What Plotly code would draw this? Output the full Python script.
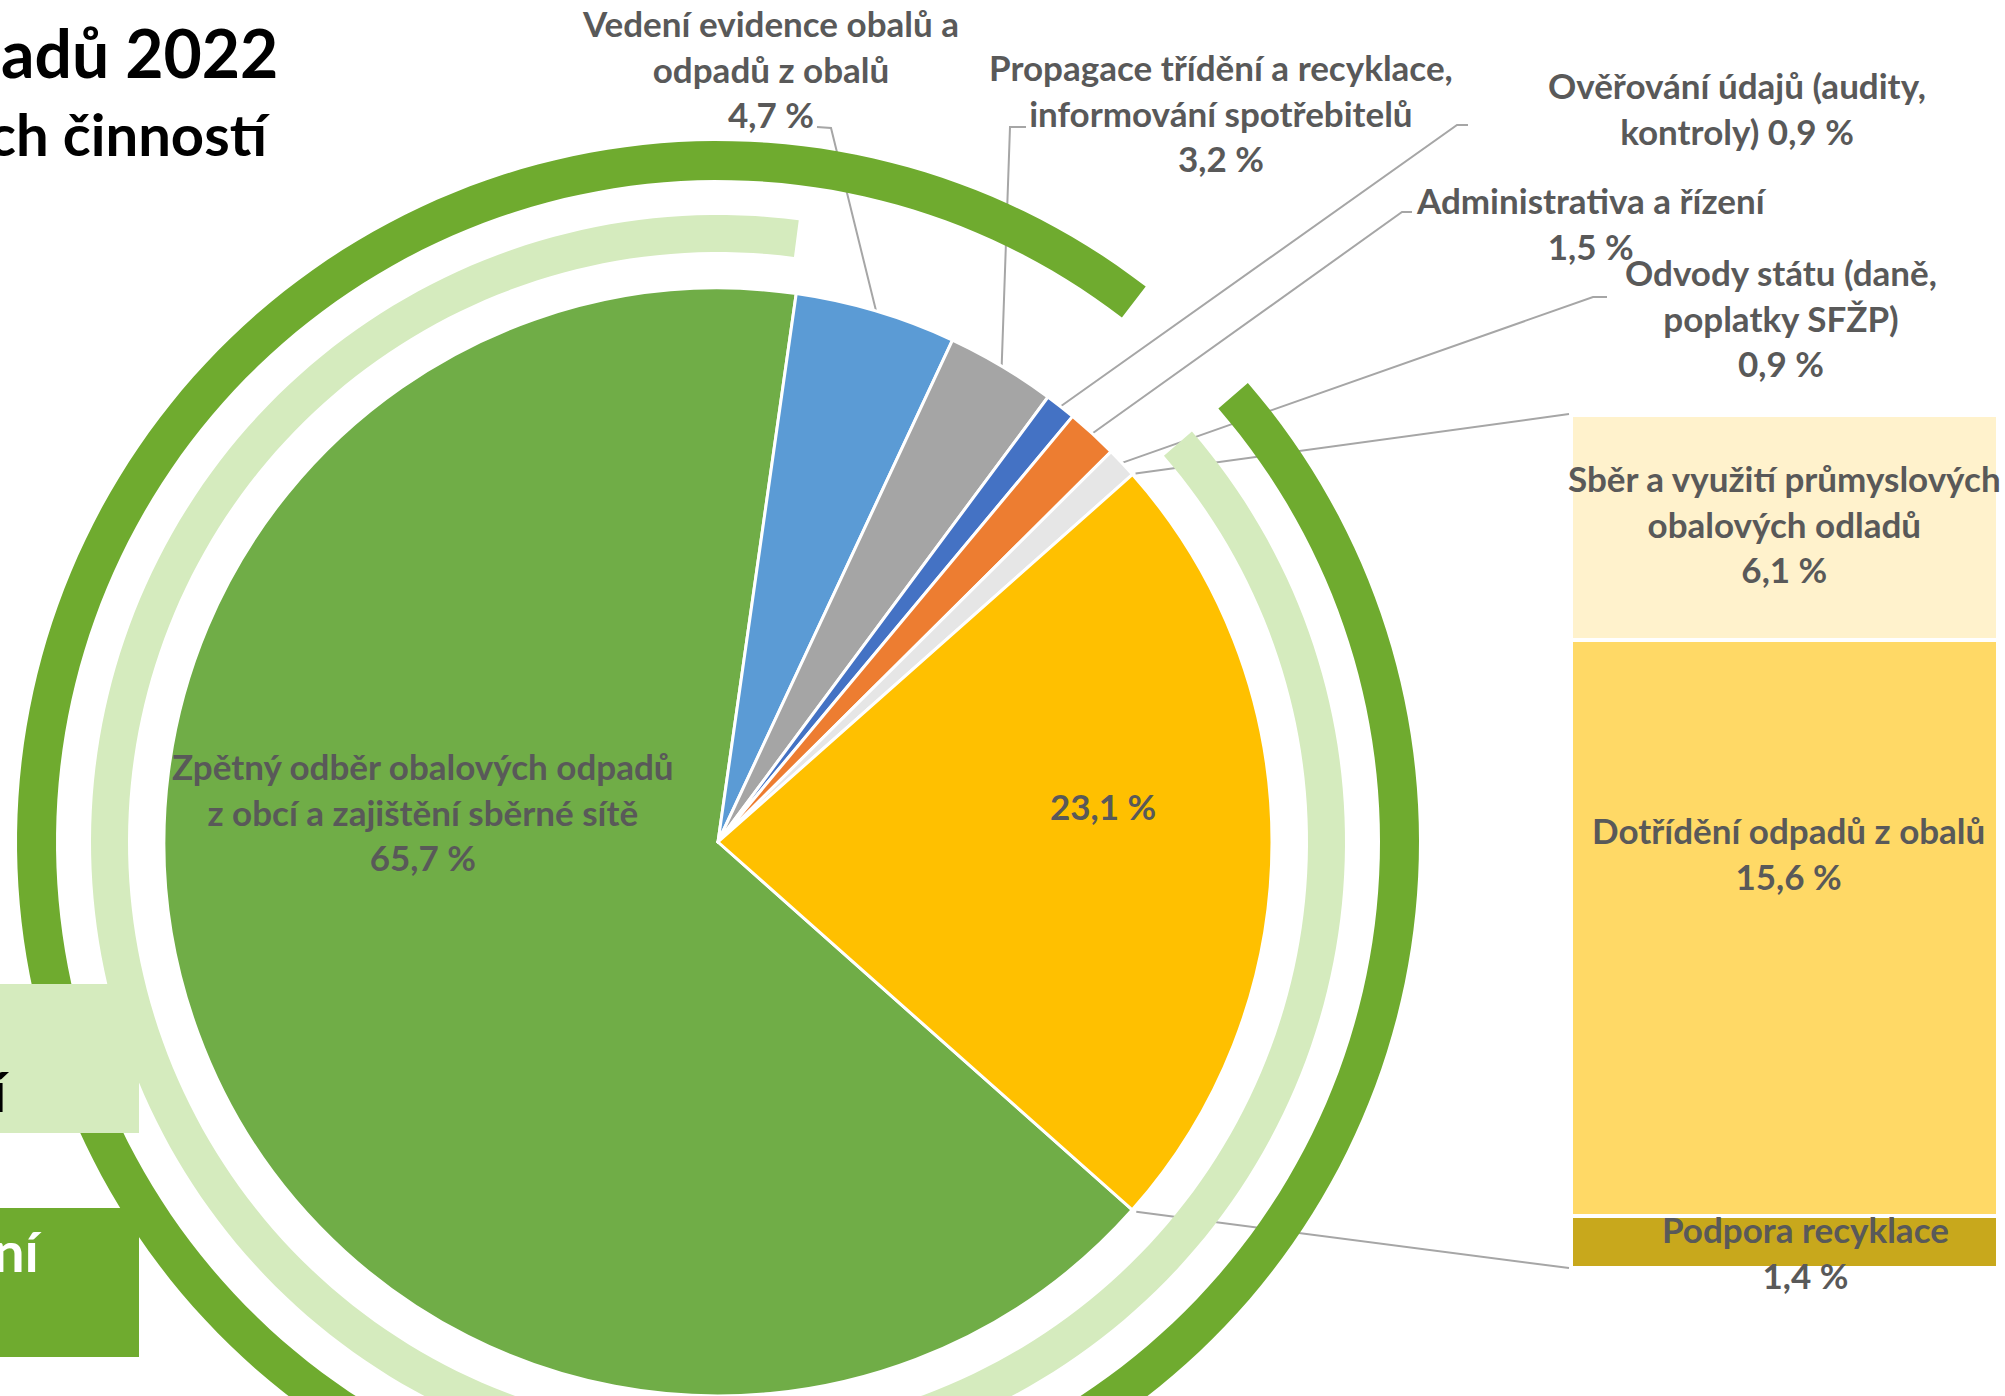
import numpy as np
import plotly.graph_objects as go

# ---------------- data ----------------
pie_labels = [
    "Zpětný odběr obalových odpadů z obcí a zajištění sběrné sítě",
    "Vedení evidence obalů a odpadů z obalů",
    "Propagace třídění a recyklace, informování spotřebitelů",
    "Ověřování údajů (audity, kontroly)",
    "Administrativa a řízení",
    "Odvody státu (daně, poplatky SFŽP)",
    "Sběr, dotřídění a podpora recyklace",
]
bar_labels = [
    "Sběr a využití průmyslových obalových odladů",
    "Dotřídění odpadů z obalů",
    "Podpora recyklace",
]
bar_values = [6.1, 15.6, 1.4]
pie_values = [65.7, 4.7, 3.2, 0.9, 1.5, 0.9, round(sum(bar_values), 1)]

title_lines = ["adů 2022", "ch činností"]
legend_texts = ["í", "ní"]

# ---------------- styling / layout ----------------
W, H = 2005, 1396
CX, CY = 718, 842
R = min(CX, H - CY)          # pie radius fits inside the page
ROT = 131.6                  # angle of the first slice (clockwise from 12 o'clock)

pie_colors = ["#70AD47", "#5B9BD5", "#A5A5A5", "#4472C4", "#ED7D31", "#E6E6E6", "#FFC000"]
bar_colors = ["#FFF2CC", "#FFD966", "#C8A81C"]
DARK_GREEN = "#6FAB2F"
LIGHT_GREEN = "#D5EBBE"
TEXT_GREY = "#595959"
LINE_GREY = "#A6A6A6"
FONT = "Lato"

BAR_X0, BAR_X1, BAR_TOP, BAR_BOT = 1571, 1998, 415, 1268
DY = -2.5   # small vertical correction for label boxes


def fmt(v):
    return f"{v:.1f}".replace(".", ",") + " %"


def wrap(name, breaks):
    words = name.split(" ")
    lines, pos = [], 0
    for b in breaks:
        lines.append(" ".join(words[pos:pos + b]))
        pos += b
    lines.append(" ".join(words[pos:]))
    return lines


def label_text(name, value, breaks, inline=False, name_shown=True):
    if not name_shown:
        return fmt(value)
    lines = wrap(name, breaks)
    if inline:
        lines[-1] = lines[-1] + " " + fmt(value)
    else:
        lines.append(fmt(value))
    return "<br>".join(lines)


total = sum(pie_values)
starts, mids = [], []
acc = 0.0
for v in pie_values:
    a0 = ROT + 360.0 * acc / total
    a1 = ROT + 360.0 * (acc + v) / total
    starts.append(a0)
    mids.append((a0 + a1) / 2)
    acc += v
ends = [s + 360.0 * v / total for s, v in zip(starts, pie_values)]


def edge(angle, r):
    t = np.radians(angle)
    return CX + r * np.sin(t), CY - r * np.cos(t)


fig = go.Figure()

# leader lines (drawn first, under rings)
leaders = [  # (slice index, label-side points)
    (1, [(817, 127), (831, 128)]),
    (2, [(1026, 127), (1010, 127)]),
    (3, [(1468, 125), (1457, 125)]),
    (4, [(1412, 212), (1402, 212)]),
    (5, [(1607, 297), (1593, 297)]),
]
for idx, pts in leaders:
    ex, ey = edge(mids[idx], R)
    xs = [p[0] for p in pts] + [ex]
    ys = [p[1] for p in pts] + [ey]
    fig.add_trace(go.Scatter(x=xs, y=ys, mode="lines", line=dict(color=LINE_GREY, width=2),
                             hoverinfo="skip", showlegend=False))

# bar-of-pie connectors from the split slice
ysx, ysy = edge(starts[-1], R)
yex, yey = edge(ends[-1], R)
fig.add_trace(go.Scatter(x=[ysx + 3, BAR_X0 - 2], y=[ysy - 1, BAR_TOP - 1], mode="lines",
                         line=dict(color=LINE_GREY, width=2), hoverinfo="skip", showlegend=False))
fig.add_trace(go.Scatter(x=[yex + 4, BAR_X0 - 2], y=[yey + 2, BAR_BOT], mode="lines",
                         line=dict(color=LINE_GREY, width=2), hoverinfo="skip", showlegend=False))

# main pie
fig.add_trace(go.Pie(
    labels=pie_labels, values=pie_values, sort=False, direction="clockwise", rotation=ROT,
    marker=dict(colors=pie_colors, line=dict(color="white", width=3)),
    textinfo="none", hoverinfo="label+percent", showlegend=False,
    domain=dict(x=[(CX - R) / W, (CX + R) / W], y=[max(0, (H - CY - R) / H), (H - CY + R) / H]),
))

# stacked bar (split of the yellow slice), bottom segment first
for lab, val, col in reversed(list(zip(bar_labels, bar_values, bar_colors))):
    fig.add_trace(go.Bar(x=[0], y=[val], name=lab, width=1, xaxis="x2", yaxis="y2",
                         marker=dict(color=col, line=dict(color="white", width=4)),
                         hoverinfo="name+y", showlegend=False))

# decorative rings
def ring_path(a0, a1, r_in, r_out, n=240):
    ang = np.linspace(a0, a1, n)
    outer = [edge(a, r_out) for a in ang]
    inner = [edge(a, r_in) for a in ang[::-1]]
    pts = outer + inner
    return "M " + " L ".join(f"{x:.2f},{y:.2f}" for x, y in pts) + " Z"

shapes = [
    dict(type="path", path=ring_path(49.1, 397.6, 662, 701), fillcolor=DARK_GREEN,
         line=dict(width=0), xref="x", yref="y", layer="above"),
    dict(type="path", path=ring_path(49.1, 367.4, 590, 627), fillcolor=LIGHT_GREEN,
         line=dict(width=0), xref="x", yref="y", layer="above"),
    dict(type="rect", x0=-5, x1=139, y0=984, y1=1133, fillcolor=LIGHT_GREEN,
         line=dict(width=0), xref="x", yref="y", layer="above"),
    dict(type="rect", x0=-5, x1=139, y0=1208, y1=1357, fillcolor=DARK_GREEN,
         line=dict(width=0), xref="x", yref="y", layer="above"),
]

lab_font = dict(family=FONT, size=35, color=TEXT_GREY, weight="bold")
annotations = []

pie_label_layout = [  # (slice index, x, y, breaks, inline value, show name)
    (0, 423, 814, [4], False, True),
    (1, 770, 71, [4], False, True),
    (2, 1221, 115, [4], False, True),
    (3, 1737, 110, [3], True, True),
    (4, 1591, 225, [], False, True),
    (5, 1781, 320, [3], False, True),
    (6, 1103, 808, [], False, False),
]
for idx, x, y, br, inline, shown in pie_label_layout:
    annotations.append(dict(x=x, y=y + DY, xref="x", yref="y", showarrow=False, align="center",
                            xanchor="center", yanchor="middle", font=lab_font,
                            text=label_text(pie_labels[idx], pie_values[idx], br, inline, shown)))

bar_label_layout = [(0, 1784, 526, [4]), (1, 1788, 855, []), (2, 1805, 1254, [])]
for idx, x, y, br in bar_label_layout:
    annotations.append(dict(x=x, y=y + DY, xref="x", yref="y", showarrow=False, align="center",
                            xanchor="center", yanchor="middle", font=lab_font,
                            text=label_text(bar_labels[idx], bar_values[idx], br)))

# title (partly outside the visible page)
annotations.append(dict(x=280, y=52, xref="x", yref="y", showarrow=False, xanchor="right",
                        yanchor="middle", text=title_lines[0],
                        font=dict(family=FONT, size=66, color="black", weight="bold")))
annotations.append(dict(x=273, y=133, xref="x", yref="y", showarrow=False, xanchor="right",
                        yanchor="middle", text=title_lines[1],
                        font=dict(family=FONT, size=58, color="black", weight="bold")))
# legend box texts
annotations.append(dict(x=12, y=1090, xref="x", yref="y", showarrow=False, xanchor="right",
                        yanchor="middle", text=legend_texts[0],
                        font=dict(family=FONT, size=56, color="black", weight="bold")))
annotations.append(dict(x=45, y=1250, xref="x", yref="y", showarrow=False, xanchor="right",
                        yanchor="middle", text=legend_texts[1],
                        font=dict(family=FONT, size=56, color="white", weight="bold")))

fig.update_layout(
    width=W, height=H, margin=dict(l=0, r=0, t=0, b=0),
    paper_bgcolor="white", plot_bgcolor="rgba(0,0,0,0)",
    barmode="stack", bargap=0,
    xaxis=dict(range=[0, W], domain=[0, 1], visible=False, fixedrange=True),
    yaxis=dict(range=[H, 0], domain=[0, 1], visible=False, fixedrange=True),
    xaxis2=dict(range=[-0.5, 0.5], domain=[BAR_X0 / W, BAR_X1 / W], anchor="y2",
                visible=False, fixedrange=True),
    yaxis2=dict(range=[0, sum(bar_values)], domain=[(H - BAR_BOT) / H, (H - BAR_TOP) / H],
                anchor="x2", visible=False, fixedrange=True),
    shapes=shapes, annotations=annotations, showlegend=False,
)

fig.write_html("out.html", config={"displayModeBar": False},
               post_script="document.body.style.margin='0px';")
